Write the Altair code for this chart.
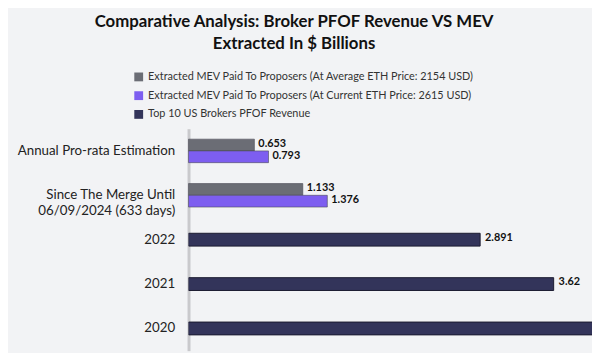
import altair as alt
import pandas as pd

categories = ["Annual Pro-rata Estimation", "Since The Merge Until\n06/09/2024 (633 days)", "2022", "2021", "2020"]
mev_categories = categories[:2]
pfof_categories = categories[2:]
series = [
    "Extracted MEV Paid To Proposers (At Average ETH Price: 2154 USD)",
    "Extracted MEV Paid To Proposers (At Current ETH Price: 2615 USD)",
    "Top 10 US Brokers PFOF Revenue",
]
colors = ["#6b6d75", "#7d5ef0", "#33345a"]
mev_avg = [0.653, 1.133]
mev_cur = [0.793, 1.376]
pfof = [2.891, 3.62, 4.4]
pfof_labels = ["2.891", "3.62", ""]

rows = []
for c, v in zip(mev_categories, mev_avg):
    rows.append({"cat": c, "series": series[0], "value": v, "label": f"{v:.3f}"})
for c, v in zip(mev_categories, mev_cur):
    rows.append({"cat": c, "series": series[1], "value": v, "label": f"{v:.3f}"})
mev_df = pd.DataFrame(rows)
pfof_df = pd.DataFrame({"cat": pfof_categories, "series": series[2], "value": pfof, "label": pfof_labels})

FONT = "Lato"
y_enc = alt.Y(
    "cat:N",
    sort=categories,
    scale=alt.Scale(domain=categories, paddingInner=0.47, paddingOuter=0.235),
    axis=alt.Axis(
        title=None, ticks=False, domainColor="#c9c9cc", domainWidth=3,
        labelFont=FONT, labelFontSize=13.5, labelColor="#222222", labelPadding=14,
        labelExpr="split(datum.label, '\\n')", labelLineHeight=16,
        minExtent=179, maxExtent=179,
    ),
)
x_enc = alt.X("value:Q", scale=alt.Scale(domain=[0, 4], nice=False, zero=True), axis=None)
color_enc = alt.Color(
    "series:N",
    scale=alt.Scale(domain=series, range=colors),
    legend=alt.Legend(
        title=None, orient="none", legendX=-56, legendY=-58, direction="vertical",
        symbolType="square", symbolSize=80, symbolStrokeWidth=0,
        labelFont=FONT, labelFontSize=11, labelColor="#333333", labelLimit=400,
        rowPadding=7,
    ),
)
yoff = alt.YOffset("series:N", scale=alt.Scale(domain=series[:2], paddingInner=0, paddingOuter=0))

mev_bars = alt.Chart(mev_df).mark_bar(stroke="#4a4a55", strokeWidth=0.6).encode(
    y=y_enc, x=x_enc, color=color_enc, yOffset=yoff
)
mev_text = alt.Chart(mev_df).mark_text(
    align="left", baseline="middle", dx=4, dy=-1, font=FONT, fontSize=11, fontWeight="bold", color="#111111"
).encode(y=y_enc, x=x_enc, yOffset=yoff, text="label:N")

pfof_bars = alt.Chart(pfof_df).mark_bar(size=13, clip=True, stroke="#1b1b30", strokeWidth=1).encode(
    y=y_enc, x=x_enc, color=color_enc
)
pfof_text = alt.Chart(pfof_df).mark_text(
    align="left", baseline="middle", dx=5, dy=-2, clip=True, font=FONT, fontSize=11, fontWeight="bold", color="#111111"
).encode(y=y_enc, x=x_enc, text="label:N")

chart = alt.layer(mev_bars, mev_text, pfof_bars, pfof_text).properties(
    width=409,
    height=225,
    padding={"left": 4, "top": 3, "right": 0, "bottom": 0},
    background="#f2f3f5",
    title=alt.TitleParams(
        ["Comparative Analysis: Broker PFOF Revenue VS MEV", "Extracted In $ Billions"],
        font=FONT, fontSize=17, fontWeight="bold", color="#111111", anchor="middle",
        frame="bounds", lineHeight=22, offset=19, dx=-8,
    ),
).configure_view(stroke=None)

chart.save("out.html", embed_options={"renderer": "svg", "actions": False})
